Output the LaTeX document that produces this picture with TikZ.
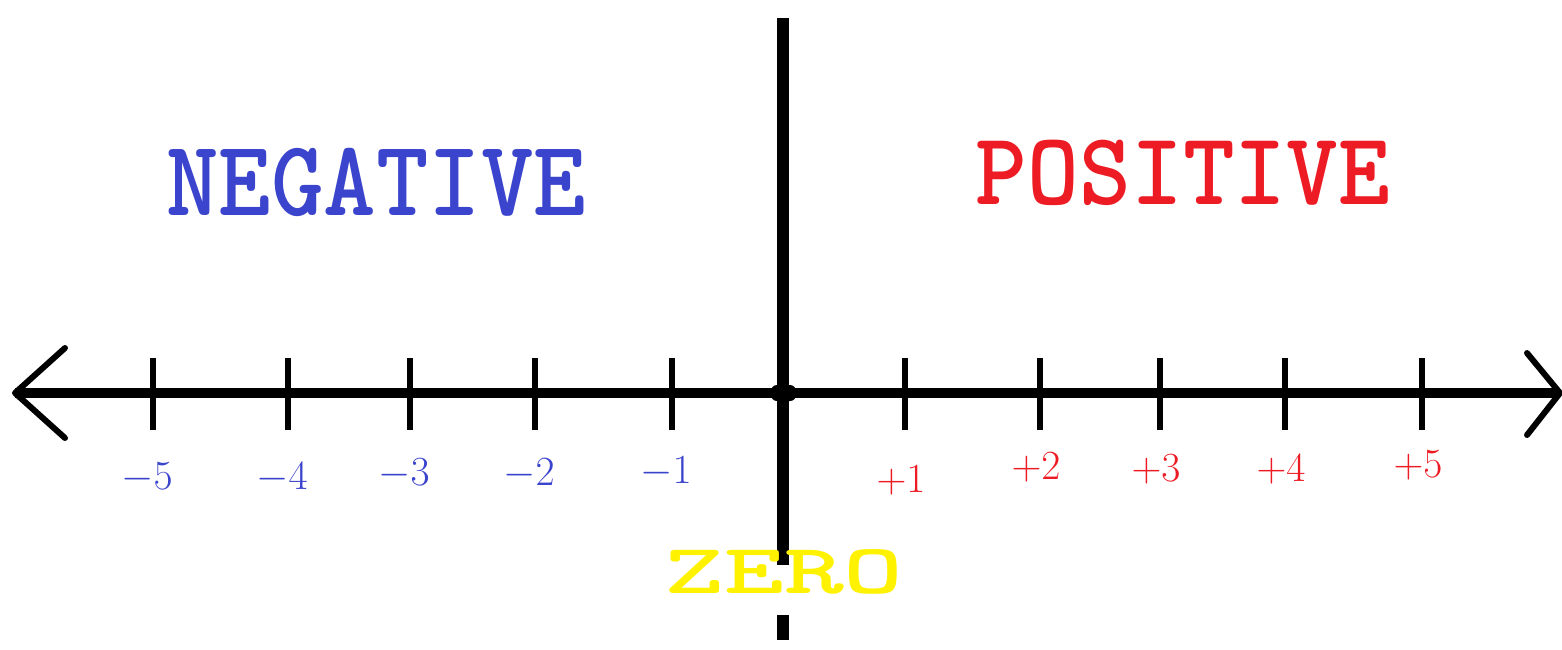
\documentclass[tikz,border=0pt]{standalone}
\usepackage{fontspec}
\usepackage{xcolor}
\usetikzlibrary{arrows.meta, positioning}
\definecolor{negblue}{RGB}{59,68,204}
\definecolor{posred}{RGB}{237,28,36}
\definecolor{zeroyellow}{RGB}{255,242,0}
\tikzset{
  axisline/.style={line width=5pt},
  armline/.style={line width=3pt, line cap=round, line join=round},
  tickline/.style={line width=3pt},
  neglab/.style={text=negblue, font=\fontsize{20}{22}\selectfont},
  poslab/.style={text=posred, font=\fontsize{20}{22}\selectfont},
}

\begin{document}
\begin{tikzpicture}[x=0.5pt,y=-0.5pt]
\useasboundingbox (0,0) rectangle (1562,649);
\def\ya{393}
% horizontal axis
\coordinate (left) at (15,\ya);
\coordinate (right) at (1560,\ya);
\draw[axisline] (left) -- (right);
\draw[armline] (65,348) -- (left) -- (65,438);
\draw[armline] (1527,353) -- (right) -- (1527,435);
% vertical axis
\coordinate (top) at (783,18);
\coordinate (bot) at (783,565);
\coordinate (stubtop) at (783,615);
\coordinate (stubbot) at (783,640);
\draw[line width=6pt] (top) -- (bot);
\draw[line width=6pt] (stubtop) -- (stubbot);
\fill[rounded corners=3pt] (771,385) rectangle (796,401);
% ticks and numbers
\foreach \x/\ly/\t in {153/478/5,288/478/4,410/474/3,535/474/2,672/472/1}{
  \draw[tickline] (\x,358) -- (\x,430);
  \node[neglab] (n\t) at (\x-6,\ly) {$-\t$};
}
\foreach \x/\ly/\t in {905/480/1,1040/467/2,1160/469/3,1285/469/4,1422/465/5}{
  \draw[tickline] (\x,358) -- (\x,430);
  \node[poslab] (p\t) at (\x-4,\ly) {$+\t$};
}
% words
\node[text=negblue, font=\ttfamily\bfseries\fontsize{50}{50}\selectfont] (neg) at (376,182) {\scalebox{1}[1.08]{NEGATIVE}};
\node[text=posred, font=\ttfamily\bfseries\fontsize{49.3}{49.3}\selectfont] (pos) at (1183,173) {\scalebox{1}[1.05]{POSITIVE}};
\node[text=zeroyellow, font=\ttfamily\bfseries\fontsize{57}{57}\selectfont] (zero) at (784,572) {\scalebox{1}[0.62]{ZERO}};
\end{tikzpicture}
\end{document}
